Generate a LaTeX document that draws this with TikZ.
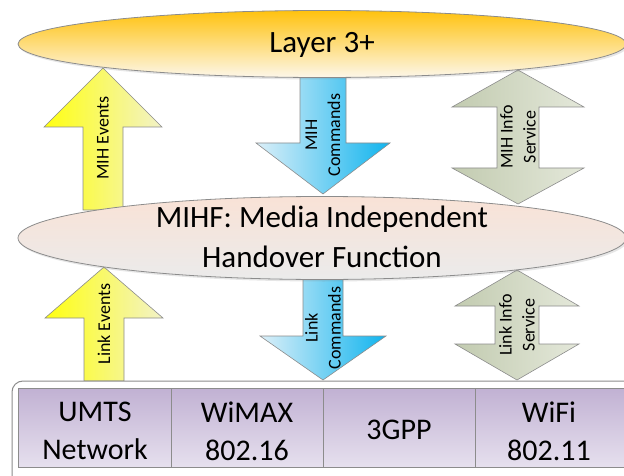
\documentclass[tikz,border=0pt]{standalone}
\usepackage{fontspec}
\setmainfont{Carlito}
\usetikzlibrary{shapes.geometric,shadows}
\definecolor{edgegray}{HTML}{8C8C8C}
\definecolor{l3top}{HTML}{FFC20E}
\definecolor{l3bot}{HTML}{FDF7EA}
\definecolor{mihtop}{HTML}{F9E2D6}
\definecolor{mihbot}{HTML}{EBEBEB}
\definecolor{yelA}{HTML}{FFFF10}
\definecolor{yelB}{HTML}{F2F2C8}
\definecolor{bluA}{HTML}{DCEFF8}
\definecolor{bluB}{HTML}{10B4EE}
\definecolor{gryA}{HTML}{C2CBB0}
\definecolor{gryB}{HTML}{E4E8DA}
\definecolor{purA}{HTML}{C1B1D3}
\definecolor{purB}{HTML}{E6E0EE}
\newcommand{\blkarrow}[7]{%
  \path[#7] (#1,#2) -- ({#1+#5},#3) -- ({#1+#6},#3) -- ({#1+#6},#4) -- ({#1-#6},#4) -- ({#1-#6},#3) -- ({#1-#5},#3) -- cycle;}
\newcommand{\dblarrow}[8]{% cx, toptip, topbase, botbase, bottip, hw, sw, style
  \path[#8] (#1,#2) -- ({#1+#6},#3) -- ({#1+#7},#3) -- ({#1+#7},#4) -- ({#1+#6},#4) -- (#1,#5) -- ({#1-#6},#4) -- ({#1-#7},#4) -- ({#1-#7},#3) -- ({#1-#6},#3) -- cycle;}
\begin{document}
\begin{tikzpicture}[x=1pt,y=-1pt,
  bigtext/.style={font=\fontsize{31}{40}\selectfont},
  celltext/.style={font=\fontsize{30}{38}\selectfont, align=center},
  arrtext/.style={font=\fontsize{18}{23}\selectfont, align=center, rotate=90, inner sep=0pt},
  ellipsebox/.style={ellipse, draw=edgegray, line width=0.8pt, inner sep=0pt, drop shadow={shadow xshift=1.5pt, shadow yshift=-2pt, opacity=0.2}},
  yarrow/.style={draw=edgegray, line width=0.6pt, left color=yelA, right color=yelB},
  barrow/.style={draw=edgegray, line width=0.6pt, left color=bluA, right color=bluB},
  garrow/.style={draw=edgegray, line width=0.6pt, left color=gryA, right color=gryB}]
\useasboundingbox (0,0) rectangle (624,476);

% upper arrows
\blkarrow{103}{68}{127}{210}{59}{20}{yarrow}
\blkarrow{323}{194}{143}{76}{67}{23}{barrow}
\dblarrow{518}{70}{107}{168}{204}{66}{21}{garrow}
\node[arrtext] (mihev) at (103,138) {MIH Events};
\node[arrtext] (mihcmd) at (323,135) {MIH\\Commands};
\node[arrtext] (mihinfo) at (518,137) {MIH Info\\Service};

% lower arrows
\blkarrow{104}{267}{318}{381}{59}{20}{yarrow}
\blkarrow{323}{380}{336}{278}{63}{20}{barrow}
\dblarrow{517}{270}{306}{344}{380}{62}{22}{garrow}
\node[arrtext] (linkev) at (104,324) {Link Events};
\node[arrtext] (linkcmd) at (323,328) {Link\\Commands};
\node[arrtext] (linkinfo) at (517,325) {Link Info\\Service};

% ellipses
\node[ellipsebox, minimum width=608pt, minimum height=67pt, top color=l3top, bottom color=l3bot] (l3) at (322,44) {};
\node[bigtext] (l3t) at (322,45) {Layer 3+};
\node[ellipsebox, minimum width=608pt, minimum height=83pt, top color=mihtop, bottom color=mihbot] (mihf) at (322,238) {};
\node[bigtext, align=center] (mihft) at (322,237) {MIHF: Media Independent\\Handover Function};

% bottom frame
\draw[edgegray, line width=1pt, fill=white, rounded corners=11pt] (12,381) rectangle (640,492);
\path[draw=edgegray, line width=0.8pt, top color=purA, bottom color=purB] (18,388) rectangle (630,467);
\draw[edgegray, line width=0.8pt] (171,388) -- (171,467) (323,388) -- (323,467) (475,388) -- (475,467);
\node[celltext] (umts) at (95,431) {UMTS\\Network};
\node[celltext] (wimax) at (247,431) {WiMAX\\802.16};
\node[celltext] (tgpp) at (399,430) {3GPP};
\node[celltext] (wifi) at (549,431) {WiFi\\802.11};
\end{tikzpicture}
\end{document}
